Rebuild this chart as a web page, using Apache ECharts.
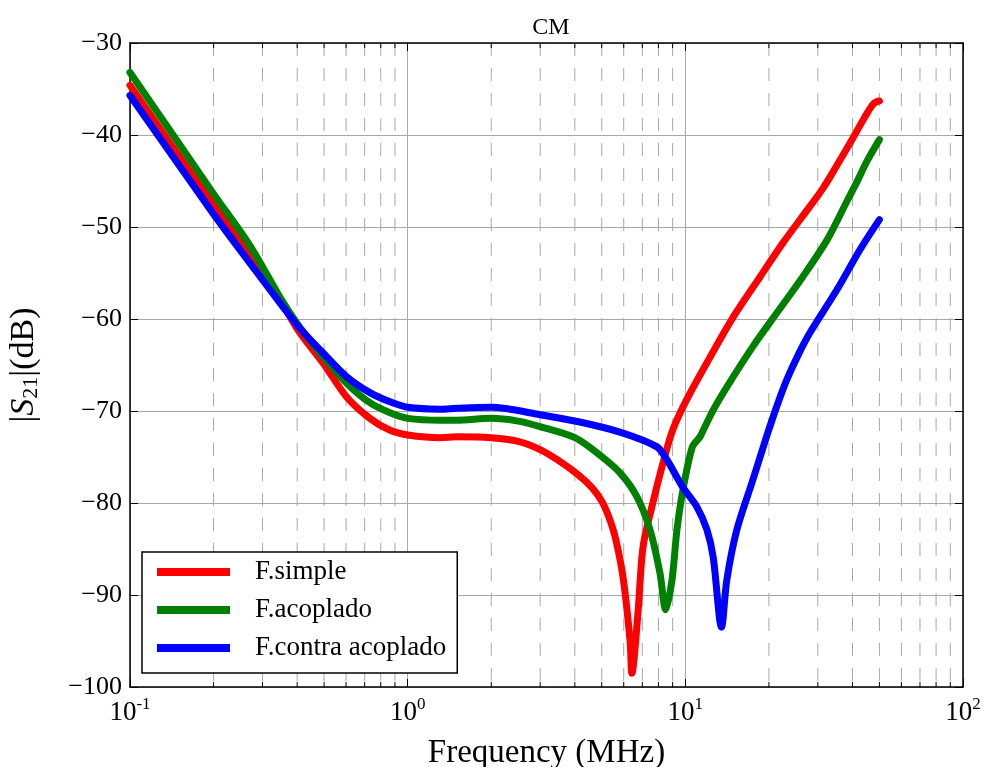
<!DOCTYPE html>
<html>
<head>
<meta charset="utf-8">
<script src="https://cdn.jsdelivr.net/npm/echarts@6/dist/echarts.min.js"></script>
<style>html,body{margin:0;padding:0;background:#fff;}#c{width:983px;height:767px;}</style>
</head>
<body>
<div id="c"></div>
<script>
const titleText = 'CM';
const xName = 'Frequency (MHz)';
const seriesNames = ['F.simple', 'F.acoplado', 'F.contra acoplado'];
const seriesColors = ['#ff0000', '#008000', '#0000ff'];
const xMin = 0.1, xMax = 100;
const yMin = -100, yMax = -30, yStep = 10;
const minorTicks = [0.2,0.3,0.4,0.5,0.6,0.7,0.8,0.9,2,3,4,5,6,7,8,9,20,30,40,50,60,70,80,90];

const redFreq = [0.1,0.2,0.27,0.356,0.409,0.496,0.604,0.731,0.864,1,1.31,1.5,2,2.5,3,3.5,4.1,4.6,5.0,5.3,5.6,5.96,6.32,6.42,6.75,7.04,7.58,8.3,9.0,10.1,12.3,14.8,18.6,22.5,27.4,31.3,35,40,44,47.6,50];
const redDb   = [-34.6,-47.6,-52.8,-58.5,-61.5,-64.8,-68.5,-70.8,-72.1,-72.6,-72.9,-72.8,-72.9,-73.3,-74.2,-75.4,-76.9,-78.3,-79.8,-81.5,-83.8,-88,-94.9,-98.5,-92,-84.8,-80.4,-75.7,-72.1,-68.8,-64.1,-59.9,-55.4,-51.7,-48.2,-45.8,-43.4,-40.4,-38.2,-36.6,-36.3];

const greenFreq = [0.1,0.2,0.27,0.356,0.409,0.496,0.604,0.731,0.864,1,1.31,1.5,2,2.5,3,4,4.93,5.81,6.69,7.46,8.1,8.5,8.95,9.33,9.8,10.6,11.3,11.6,12.6,14.1,17.5,21.4,26.5,32.4,38.2,41.5,45,50];
const greenDb   = [-33.2,-46.4,-52.0,-58.2,-60.9,-64.1,-67,-69.1,-70.2,-70.8,-71,-71,-70.8,-71.1,-71.7,-72.9,-74.8,-76.7,-79.3,-82.9,-87.6,-91.6,-88.4,-82.9,-78.6,-73.9,-72.8,-72.1,-69.9,-67.4,-63,-59.3,-55.4,-51.4,-47.2,-45.1,-42.9,-40.5];

const blueFreq = [0.1,0.2,0.27,0.356,0.409,0.496,0.604,0.731,0.864,1,1.31,1.5,2,3,4.17,5.81,7.9,8.58,9.8,11,11.96,12.6,13.5,14.1,15.3,17.5,19.7,21.4,23.2,25.5,28.1,35.2,42.5,50];
const blueDb   = [-35.7,-48.6,-53.9,-58.7,-61,-63.7,-66.3,-68,-69,-69.6,-69.8,-69.7,-69.6,-70.4,-71.2,-72.3,-73.9,-75.3,-78.3,-80.4,-82.9,-85.9,-93.5,-88.4,-83,-77.5,-72.6,-69.4,-66.6,-63.9,-61.5,-56.8,-52.5,-49.2];

const freqs = [redFreq, greenFreq, blueFreq];
const dbs = [redDb, greenDb, blueDb];

const FONT = '"Liberation Serif", "DejaVu Serif", serif';
const chart = echarts.init(document.getElementById('c'), null, {renderer: 'canvas'});

const lineSeries = seriesNames.map((name, i) => ({
  name: name,
  type: 'line',
  data: freqs[i].map((f, k) => [f, dbs[i][k]]),
  showSymbol: false,
  smooth: 0.3,
  lineStyle: {color: seriesColors[i], width: 7, cap: 'round', join: 'round'},
  itemStyle: {color: seriesColors[i]},
  z: 5 + i,
  clip: true
}));

const minorSeries = {
  type: 'custom',
  name: 'minor',
  silent: true,
  z: 1,
  data: minorTicks.map(v => [v, yMin]),
  encode: {x: 0, y: 1},
  renderItem: function (params, api) {
    const x = api.coord([api.value(0), yMin])[0];
    const cs = params.coordSys;
    return {
      type: 'group',
      children: [
        {type: 'line', shape: {x1: x, y1: cs.y, x2: x, y2: cs.y + cs.height},
         style: {stroke: '#a8a8a8', lineWidth: 1, lineDash: [13, 12]}},
        {type: 'line', shape: {x1: x, y1: cs.y + cs.height, x2: x, y2: cs.y + cs.height - 5},
         style: {stroke: '#000', lineWidth: 1}},
        {type: 'line', shape: {x1: x, y1: cs.y, x2: x, y2: cs.y + 5},
         style: {stroke: '#000', lineWidth: 1}}
      ]
    };
  }
};

const option = {
  animation: false,
  backgroundColor: '#ffffff',
  title: {
    text: titleText, left: 546, top: 11, textAlign: 'center',
    textStyle: {fontFamily: FONT, fontSize: 24, fontWeight: 'normal', color: '#000'}
  },
  legend: {
    orient: 'vertical', left: 142, top: 552,
    data: seriesNames.map(n => ({name: n, icon: 'rect'})),
    itemWidth: 73, itemHeight: 8, itemGap: 10,
    padding: [6, 11, 11, 15],
    backgroundColor: '#fff', borderColor: '#000', borderWidth: 1.5, borderRadius: 0,
    textStyle: {fontFamily: FONT, fontSize: 27, lineHeight: 28, color: '#000', padding: [0, 0, 0, 20]}
  },
  grid: {left: 130, right: 20, top: 43, bottom: 80, containLabel: false, outerBoundsMode: 'none'},
  xAxis: [{
    type: 'log', logBase: 10, min: xMin, max: xMax, position: 'bottom',
    name: xName, nameLocation: 'middle', nameGap: 50,
    nameTextStyle: {fontFamily: FONT, fontSize: 33, color: '#000'},
    axisLine: {show: true, lineStyle: {color: '#000', width: 1.5}},
    axisTick: {show: true, inside: true, length: 8, lineStyle: {color: '#000', width: 1}},
    axisLabel: {
      margin: 9, color: '#000', fontFamily: FONT, fontSize: 27,
      formatter: v => '10{sup|' + Math.round(Math.log10(v)) + '}',
      rich: {sup: {fontFamily: FONT, fontSize: 17, color: '#000', verticalAlign: 'top', padding: [0, 0, 16, 0]}}
    },
    splitLine: {show: true, lineStyle: {color: '#a8a8a8', width: 1}}
  }, {
    type: 'log', logBase: 10, min: xMin, max: xMax, position: 'top',
    axisLine: {show: true, lineStyle: {color: '#000', width: 1.5}},
    axisTick: {show: true, inside: true, length: 8, lineStyle: {color: '#000', width: 1}},
    axisLabel: {show: false}, splitLine: {show: false}
  }],
  yAxis: [{
    type: 'value', min: yMin, max: yMax, interval: yStep, position: 'left',
    name: '|{it|S}{sub|21}|(dB)', nameLocation: 'middle', nameRotate: 90, nameGap: 88,
    nameTextStyle: {fontFamily: FONT, fontSize: 34, color: '#000',
      rich: {
        it: {fontFamily: FONT, fontStyle: 'italic', fontSize: 34, color: '#000'},
        sub: {fontFamily: FONT, fontSize: 22, color: '#000', verticalAlign: 'bottom', padding: [14, 0, 0, 0]}
      }},
    axisLine: {show: true, lineStyle: {color: '#000', width: 1.5}},
    axisTick: {show: true, inside: true, length: 8, lineStyle: {color: '#000', width: 1}},
    axisLabel: {margin: 8, color: '#000', fontFamily: FONT, fontSize: 26,
      formatter: v => (v < 0 ? '\u2212' + Math.abs(v) : String(v))},
    splitLine: {show: true, lineStyle: {color: '#a8a8a8', width: 1}}
  }, {
    type: 'value', min: yMin, max: yMax, interval: yStep, position: 'right',
    axisLine: {show: true, lineStyle: {color: '#000', width: 1.5}},
    axisTick: {show: true, inside: true, length: 8, lineStyle: {color: '#000', width: 1}},
    axisLabel: {show: false}, splitLine: {show: false}
  }],
  series: [minorSeries].concat(lineSeries)
};
chart.setOption(option);
</script>
</body>
</html>
